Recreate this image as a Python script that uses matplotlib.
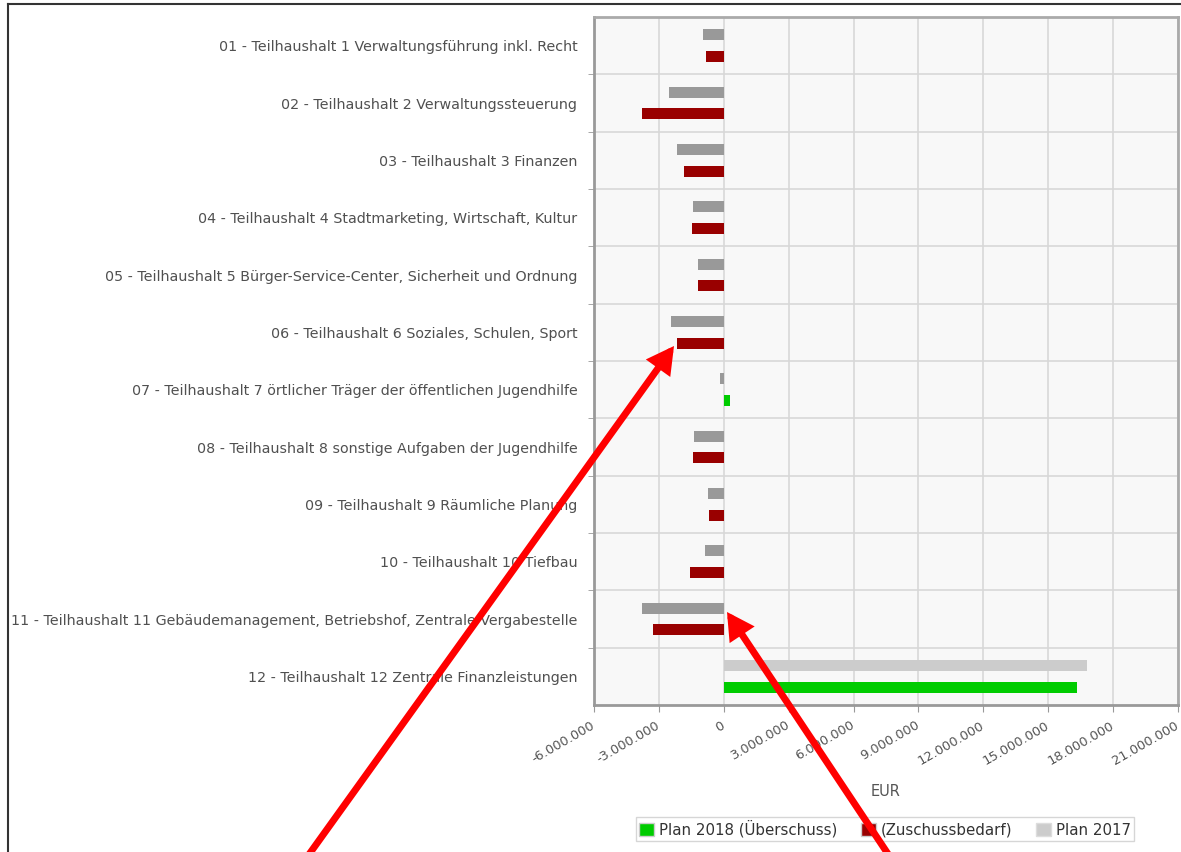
import numpy as np
import matplotlib
matplotlib.use('Agg')
import matplotlib.pyplot as plt
from matplotlib.patches import FancyArrowPatch, Patch
from matplotlib.lines import Line2D
from matplotlib.ticker import FuncFormatter, MultipleLocator

plt.rcParams['font.family'] = ['DejaVu Sans']

# Teilhaushalte
categories = [
    "01 - Teilhaushalt 1 Verwaltungsführung inkl. Recht",
    "02 - Teilhaushalt 2 Verwaltungssteuerung",
    "03 - Teilhaushalt 3 Finanzen",
    "04 - Teilhaushalt 4 Stadtmarketing, Wirtschaft, Kultur",
    "05 - Teilhaushalt 5 Bürger-Service-Center, Sicherheit und Ordnung",
    "06 - Teilhaushalt 6 Soziales, Schulen, Sport",
    "07 - Teilhaushalt 7 örtlicher Träger der öffentlichen Jugendhilfe",
    "08 - Teilhaushalt 8 sonstige Aufgaben der Jugendhilfe",
    "09 - Teilhaushalt 9 Räumliche Planung",
    "10 - Teilhaushalt 10 Tiefbau",
    "11 - Teilhaushalt 11 Gebäudemanagement, Betriebshof, Zentrale Vergabestelle",
    "12 - Teilhaushalt 12 Zentrale Finanzleistungen",
]
# EUR
plan_2017 = [-980000, -2530000, -2180000, -1420000, -1190000, -2440000,
             -180000, -1380000, -720000, -850000, -3800000, 16810000]
plan_2018 = [-820000, -3770000, -1830000, -1470000, -1190000, -2150000,
             270000, -1410000, -700000, -1560000, -3250000, 16320000]

W, H = 1181, 852
fig = plt.figure(figsize=(W / 100, H / 100), dpi=100)
ax = fig.add_axes([594 / W, 1 - 705 / H, (1178 - 594) / W, (705 - 17) / H])
ax.set_facecolor('#f8f8f8')

y = np.arange(len(categories))
c17 = ['#cccccc' if v > 0 else '#999999' for v in plan_2017]
c18 = ['#00cc00' if v > 0 else '#990000' for v in plan_2018]
ax.barh(y - 0.19, plan_2017, height=0.19, color=c17, zorder=3)
ax.barh(y + 0.19, plan_2018, height=0.19, color=c18, zorder=3)

ax.set_ylim(len(categories) - 0.5, -0.5)
ax.set_yticks(y)
ax.set_yticklabels(categories, color='#505050', fontsize=10.3)
ax.set_yticks(y[:-1] + 0.5, minor=True)
ax.tick_params(axis='y', which='major', length=0, pad=12)
ax.tick_params(axis='y', which='minor', length=4, color='#999999')

ax.set_xlim(-6000000, 21000000)
ax.xaxis.set_major_locator(MultipleLocator(3000000))
ax.xaxis.set_major_formatter(FuncFormatter(lambda v, p: f"{int(v):,}".replace(',', '.')))
ax.tick_params(axis='x', length=5, color='#999999', labelcolor='#555555', labelsize=9.4, pad=9)
plt.setp(ax.get_xticklabels(), rotation=30, ha='right', va='center', rotation_mode='anchor')
ax.set_xlabel('EUR', color='#555555', fontsize=10.5, labelpad=12)

ax.grid(axis='x', which='major', color='#d8d8d8', lw=1.2, zorder=0)
ax.grid(axis='y', which='minor', color='#d8d8d8', lw=1.2, zorder=0)
ax.set_axisbelow(True)
for side in ['left', 'bottom']:
    ax.spines[side].set_color('#999999')
    ax.spines[side].set_linewidth(2)
for side in ['top', 'right']:
    ax.spines[side].set_color('#aaaaaa')
    ax.spines[side].set_linewidth(2)

handles = [Patch(facecolor='#00cc00', edgecolor='#cccccc'),
           Patch(facecolor='#990000', edgecolor='#cccccc'),
           Patch(facecolor='#cccccc', edgecolor='#dddddd')]
fig.legend(handles, ['Plan 2018 (Überschuss)', '(Zuschussbedarf)', 'Plan 2017'],
           loc='center', bbox_to_anchor=(885 / W, 1 - 829 / H), ncol=3,
           fontsize=10.8, frameon=True, fancybox=False, edgecolor='#cccccc',
           handlelength=1.0, handleheight=1.0, handletextpad=0.3,
           columnspacing=1.6, borderpad=0.2, labelcolor='#333333')

# outer frame
fig.add_artist(Line2D([8 / W, 1], [1 - 4 / H, 1 - 4 / H], transform=fig.transFigure, color='#333333', lw=1.5))
fig.add_artist(Line2D([8 / W, 8 / W], [0, 1 - 4 / H], transform=fig.transFigure, color='#333333', lw=1.5))

# red arrows
for (x1, y1), (x2, y2) in [((305, 860), (674, 346)), ((892, 860), (727, 612))]:
    fig.add_artist(FancyArrowPatch((x1 / W, 1 - y1 / H), (x2 / W, 1 - y2 / H),
                                   transform=fig.transFigure, arrowstyle='-|>,head_length=0.4,head_width=0.22',
                                   mutation_scale=30, lw=5, color='#ff0000',
                                   shrinkA=0, shrinkB=0, joinstyle='miter', zorder=10))

fig.savefig('out.png', dpi=100)
